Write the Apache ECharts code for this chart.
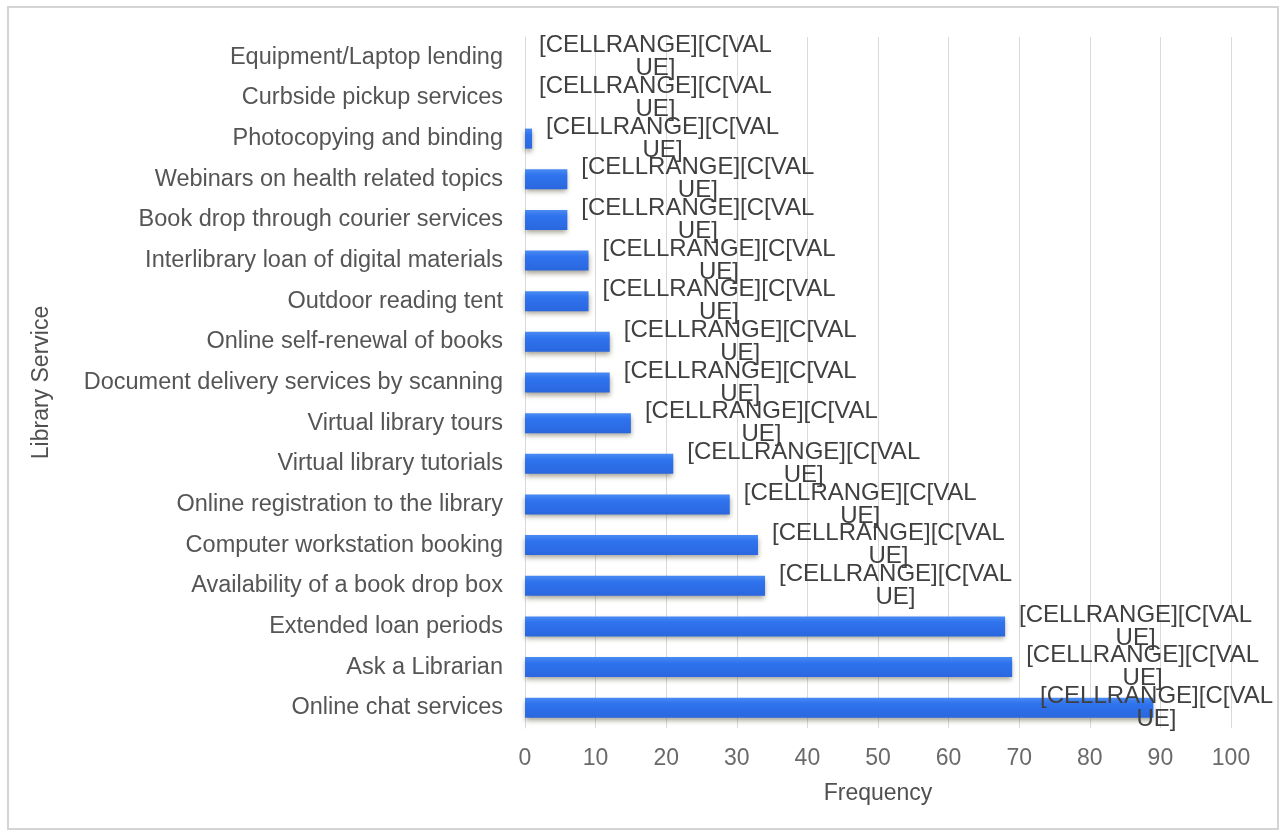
<!DOCTYPE html>
<html>
<head>
<meta charset="utf-8">
<title>Library Service Frequency</title>
<script src="https://cdn.jsdelivr.net/npm/echarts@6/dist/echarts.min.js"></script>
<style>
  html, body { margin: 0; padding: 0; background: #ffffff; }
  #chart { width: 1281px; height: 833px; }
</style>
</head>
<body>
<div id="chart"></div>
<script>
// Library services, listed top to bottom
const services = [
  'Equipment/Laptop lending',
  'Curbside pickup services',
  'Photocopying and binding',
  'Webinars on health related topics',
  'Book drop through courier services',
  'Interlibrary loan of digital materials',
  'Outdoor reading tent',
  'Online self-renewal of books',
  'Document delivery services by scanning',
  'Virtual library tours',
  'Virtual library tutorials',
  'Online registration to the library',
  'Computer workstation booking',
  'Availability of a book drop box',
  'Extended loan periods',
  'Ask a Librarian',
  'Online chat services'
];

// How often each service was mentioned
const frequency = [0, 0, 1, 6, 6, 9, 9, 12, 12, 15, 21, 29, 33, 34, 68, 69, 89];

// Frequency axis ticks
const freqTicks = [0, 10, 20, 30, 40, 50, 60, 70, 80, 90, 100];

// Placeholder text shown in each data label
const labelText = '[CELLRANGE][C[VAL\nUE]';

const FONT = '"Liberation Sans", Arial, sans-serif';
const LABEL_GAP = 14;      // space between bar end and label
const RIGHT_LIMIT = 1273;  // labels are kept inside the chart frame

const chart = echarts.init(document.getElementById('chart'), null, { renderer: 'canvas' });

const barFill = new echarts.graphic.LinearGradient(0, 0, 0, 1, [
  { offset: 0, color: '#4a8bf3' },
  { offset: 0.3, color: '#2f73ee' },
  { offset: 1, color: '#2a67df' }
]);

chart.setOption({
  backgroundColor: '#ffffff',
  animation: false,
  graphic: [{
    type: 'rect',
    shape: { x: 8, y: 7, width: 1270, height: 822 },
    style: { fill: 'none', stroke: '#d4d4d4', lineWidth: 2 },
    silent: true,
    z: -1
  }],
  grid: { left: 525, right: 50, top: 37, bottom: 105, containLabel: false },
  xAxis: {
    type: 'value',
    min: freqTicks[0],
    max: freqTicks[freqTicks.length - 1],
    interval: freqTicks[1] - freqTicks[0],
    name: 'Frequency',
    nameLocation: 'middle',
    nameGap: 54,
    nameTextStyle: { color: '#505050', fontSize: 23, fontFamily: FONT },
    axisLine: { show: false },
    axisTick: { show: false },
    axisLabel: { color: '#6a6a6a', fontSize: 23, fontFamily: FONT, margin: 19 },
    splitLine: { show: true, lineStyle: { color: '#d9d9d9', width: 1 } }
  },
  yAxis: {
    type: 'category',
    data: services,
    inverse: true,
    name: 'Library Service',
    nameLocation: 'middle',
    nameGap: 472,
    nameRotate: 90,
    nameTextStyle: { color: '#505050', fontSize: 23, fontFamily: FONT },
    axisLine: { show: true, lineStyle: { color: '#d9d9d9', width: 1 } },
    axisTick: { show: false },
    axisLabel: { color: '#555555', fontSize: 23.5, fontFamily: FONT, margin: 22 },
    splitLine: { show: false }
  },
  series: [{
    type: 'bar',
    data: frequency,
    barWidth: 20,
    itemStyle: {
      color: barFill,
      shadowColor: 'rgba(90, 85, 60, 0.55)',
      shadowBlur: 5,
      shadowOffsetY: 3
    },
    label: {
      show: true,
      position: 'right',
      distance: 0,
      align: 'center',
      formatter: () => labelText,
      color: '#404040',
      fontSize: 24,
      lineHeight: 23,
      fontFamily: FONT
    },
    // Shift each centred label to the right of its bar, keeping it inside the frame
    labelLayout: (params) => {
      const r = params.labelRect;
      let dx = r.width / 2 + LABEL_GAP;
      const over = r.x + r.width + dx - RIGHT_LIMIT;
      if (over > 0) dx -= over;
      return { dx: dx };
    }
  }]
});
</script>
</body>
</html>
